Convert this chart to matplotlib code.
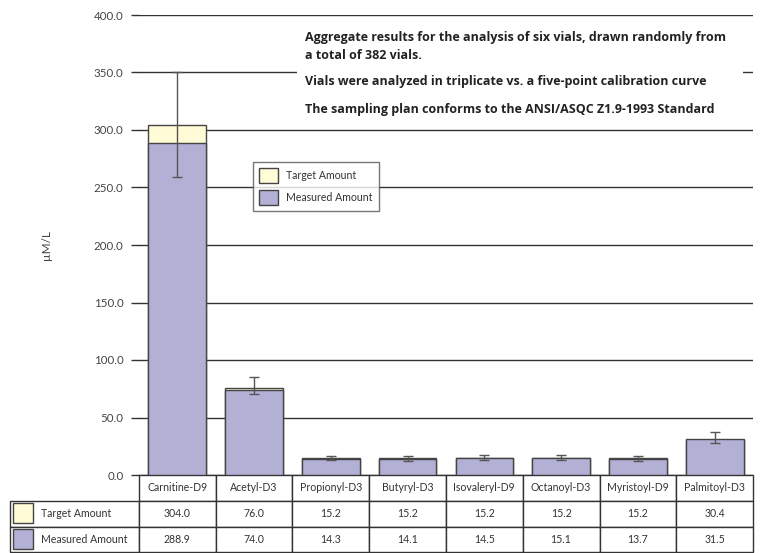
import numpy as np
import matplotlib
matplotlib.use("Agg")
import matplotlib.pyplot as plt
from matplotlib.patches import Rectangle, Patch

plt.rcParams['font.family'] = ['Lato', 'DejaVu Sans']

categories = ['Carnitine-D9', 'Acetyl-D3', 'Propionyl-D3', 'Butyryl-D3',
              'Isovaleryl-D9', 'Octanoyl-D3', 'Myristoyl-D9', 'Palmitoyl-D3']
target = [304.0, 76.0, 15.2, 15.2, 15.2, 15.2, 15.2, 30.4]
measured = [288.9, 74.0, 14.3, 14.1, 14.5, 15.1, 13.7, 31.5]
# error bar ends
err_low = [259.4, 70.2, 12.8, 12.6, 12.9, 13.2, 12.3, 28.1]
err_high = [350.0, 85.5, 16.8, 16.6, 17.0, 17.3, 16.2, 37.4]
yticks = [0, 50, 100, 150, 200, 250, 300, 350, 400]
series_names = ['Target Amount', 'Measured Amount']
notes = ['Aggregate results for the analysis of six vials, drawn randomly from\na total of 382 vials.',
         'Vials were analyzed in triplicate vs. a five-point calibration curve',
         'The sampling plan conforms to the ANSI/ASQC Z1.9-1993 Standard']

c_target = '#FFFBD6'
c_meas = '#B3B0D6'
c_edge = '#444444'
c_line = '#333333'
c_text = '#333333'

W, H = 761, 553
AXW, AXH = 614.6, 460
fig = plt.figure(figsize=(W / 100, H / 100), dpi=100)
ax = fig.add_axes([138.7 / W, (H - 475) / H, AXW / W, AXH / H])

x = np.arange(len(categories))
ax.bar(x, target, width=0.75, color=c_target, edgecolor=c_edge, linewidth=1, zorder=2)
ax.bar(x, measured, width=0.75, color=c_meas, edgecolor=c_edge, linewidth=1, zorder=3)
m = np.array(measured)
yerr = [m - np.array(err_low), np.array(err_high) - m]
ax.errorbar(x, m, yerr=yerr, fmt='none', ecolor='#555555', elinewidth=1,
            capsize=3.5, capthick=1, zorder=4)

for t in yticks:
    ax.axhline(t, color=c_line, linewidth=1, zorder=1)

ax.set_xlim(-0.5, len(categories) - 0.5)
ax.set_ylim(0, 400)
ax.set_yticks(yticks)
ax.set_yticklabels(['%.1f' % t for t in yticks])
ax.tick_params(axis='y', direction='out', length=6, width=1, color=c_line,
               labelcolor='#444444', labelsize=8.3, pad=5)
ax.set_xticks([])
for s in ax.spines.values():
    s.set_visible(False)
ax.set_ylabel('µM/L', fontsize=8.5, color='#444444')
ax.yaxis.set_label_coords((52 - 138.7) / AXW, 0.5)

# white box behind the notes
ax.add_patch(Rectangle(((297 - 138.7) / AXW, 310), (743 - 297) / AXW, 85,
                       transform=ax.get_yaxis_transform(), facecolor='white',
                       edgecolor='none', zorder=1.5))
note_y = [46.5, 81, 110]
for txt, yy in zip(notes, note_y):
    fig.text(305 / W, 1 - yy / H, txt, fontsize=9, fontweight='bold',
             family=['Open Sans', 'DejaVu Sans'],
             color='#222222', ha='left', va='center', linespacing=1.45)

# legend
handles = [Patch(facecolor=c_target, edgecolor=c_edge, label=series_names[0]),
           Patch(facecolor=c_meas, edgecolor=c_edge, label=series_names[1])]
leg = fig.legend(handles=handles, loc='upper left',
                 bbox_to_anchor=(253 / W, 1 - 162 / H), fontsize=7.6,
                 frameon=True, fancybox=False, handlelength=1.8, handleheight=1.9,
                 handletextpad=0.8, labelspacing=0.6, borderpad=0.55, borderaxespad=0)
leg.get_frame().set_edgecolor('#555555')
leg.get_frame().set_linewidth(1)
for t in leg.get_texts():
    t.set_color(c_text)

# data table, first column holds the series names
cell_text = [[series_names[0]] + ['%.1f' % v for v in target],
             [series_names[1]] + ['%.1f' % v for v in measured]]
lab_px, col_px = 128.7, 76.8
tot_px = lab_px + col_px * len(categories)
tab = ax.table(cellText=cell_text, colLabels=[''] + categories,
               colWidths=[lab_px / tot_px] + [col_px / tot_px] * len(categories),
               cellLoc='center',
               bbox=[(10 - 138.7) / AXW, -77.3 / AXH, tot_px / AXW, 77.3 / AXH])
tab.auto_set_font_size(False)
for (r, c), cell in tab.get_celld().items():
    cell.set_edgecolor(c_line)
    cell.set_linewidth(1)
    cell.get_text().set_fontsize(7.6)
    cell.get_text().set_color(c_text)
    if c == 0:
        cell._loc = 'left'
        cell.get_text().set_horizontalalignment('left')
        cell.PAD = 31 / lab_px
        if r == 0:
            cell.visible_edges = ''

# swatches in the row labels
for yy, col in [(503, c_target), (529, c_meas)]:
    fig.add_artist(Rectangle((13 / W, 1 - (yy + 20) / H), 20 / W, 20 / H,
                             transform=fig.transFigure, facecolor=col,
                             edgecolor=c_edge, linewidth=1))

fig.savefig('out.png', dpi=100)
